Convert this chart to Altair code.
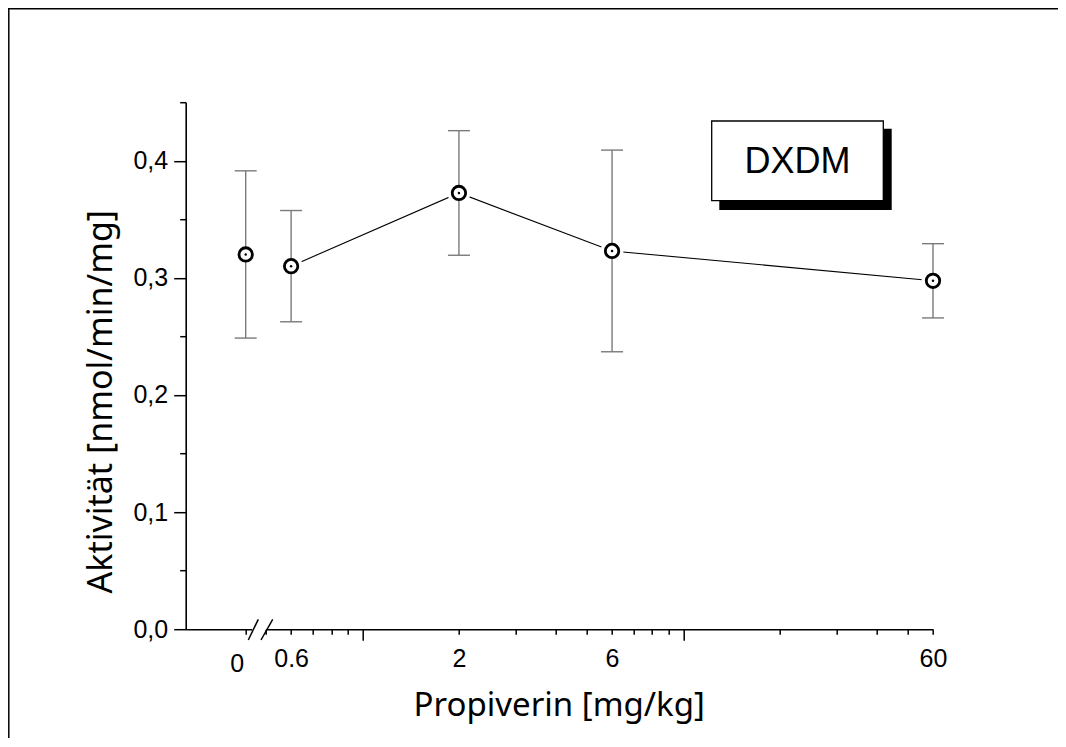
import altair as alt
import pandas as pd

# ---- data ----
doses = [0, 0.6, 2, 6, 60]
means = [0.320, 0.310, 0.3725, 0.323, 0.2975]
errors = [0.0714, 0.0475, 0.0532, 0.0861, 0.0317]

x_tick_values = [0.5, 0.6, 0.7, 0.8, 0.9, 1, 2, 3, 4, 5, 6, 7, 8, 9, 10, 20, 30, 40, 50, 60]
x_major_ticks = [1, 10]
x_label_values = [0.6, 2, 6, 60]
y_tick_values = [0, 0.05, 0.1, 0.15, 0.2, 0.25, 0.3, 0.35, 0.4, 0.45]
legend_label = "DXDM"
x_title = "Propiverin [mg/kg]"
y_title = "Aktivität [nmol/min/mg]"

df = pd.DataFrame({"dose": doses, "mean": means, "err": errors})
df["lo"] = df["mean"] - df["err"]
df["hi"] = df["mean"] + df["err"]
df_zero = df[df["dose"] == 0]
df_pos = df[df["dose"] > 0]

# ---- layout constants (pixels) ----
W, H = 747.3, 527
LEFT_W = 66
RIGHT_START = 80
TICK_FONT = "Liberation Sans"
TITLE_FONT = "Noto Sans"
TICK_FS = 25

y_scale = alt.Scale(domain=[0, 0.45], nice=False, zero=False)
y_axis = alt.Axis(
    values=y_tick_values,
    tickSize={"condition": {"test": "abs(datum.value*10 - round(datum.value*10)) < 0.001", "value": 12}, "value": 6},
    labelExpr="abs(datum.value*10 - round(datum.value*10)) < 0.001 ? replace(format(datum.value, '.1f'), '.', ',') : ''",
    labelFont=TICK_FONT, labelFontSize=TICK_FS, labelColor="black", labelPadding=6,
    labelFlush=False, labelOverlap=False,
    title=y_title, titleFont=TITLE_FONT, titleFontSize=34, titleFontWeight="normal",
    titleColor="black", titleBaseline="alphabetic", titleX=-74, titleY=299,
    grid=False, domainColor="black", domainWidth=1.6, tickColor="black", tickWidth=1.5,
)

xl_scale = alt.Scale(type="linear", domain=[-1, 0.1], range=[0, LEFT_W], nice=False, zero=False)
xl_axis = alt.Axis(
    orient="bottom", values=[0], tickSize=5, labelExpr="'0'",
    labelFont=TICK_FONT, labelFontSize=TICK_FS, labelColor="black",
    labelPadding=17, labelOffset=-9, labelFlush=False, labelOverlap=False,
    title=None, grid=False, domainColor="black", domainWidth=1.6,
    tickColor="black", tickWidth=1.5,
)

major_test = " || ".join(f"datum.value == {v}" for v in x_major_ticks)
label_list = ",".join(str(v) for v in x_label_values)
xr_scale = alt.Scale(type="log", domain=[0.5, 60], range=[RIGHT_START, W], nice=False)
xr_axis = alt.Axis(
    orient="bottom", values=x_tick_values,
    tickSize={"condition": {"test": major_test, "value": 11}, "value": 5},
    labelExpr=f"indexof([{label_list}], datum.value) >= 0 ? format(datum.value, '~g') : ''",
    labelFont=TICK_FONT, labelFontSize=TICK_FS, labelColor="black",
    labelPadding=12, labelFlush=False, labelOverlap=False,
    title=x_title, titleFont=TITLE_FONT, titleFontSize=33, titleFontWeight="normal",
    titleColor="black", titleBaseline="alphabetic", titleX=373, titleY=86,
    grid=False, domainColor="black", domainWidth=1.6, tickColor="black", tickWidth=1.5,
)

EB_COLOR = "#7a7a7a"


def series_layers(data, xenc, with_line):
    base = alt.Chart(data)
    layers = []
    if with_line:
        layers.append(base.mark_line(color="black", strokeWidth=1.1).encode(
            x=xenc, y=alt.Y("mean:Q", scale=y_scale, axis=y_axis)))
    layers.append(base.mark_circle(size=520, color="white", opacity=1).encode(
        x=xenc, y=alt.Y("mean:Q", scale=y_scale, axis=y_axis)))
    layers.append(base.mark_rule(color=EB_COLOR, strokeWidth=1.4).encode(
        x=xenc, y=alt.Y("lo:Q", scale=y_scale, axis=y_axis), y2="hi:Q"))
    layers.append(base.mark_tick(orient="horizontal", size=22, thickness=1.4, color=EB_COLOR, opacity=1).encode(
        x=xenc, y=alt.Y("lo:Q", scale=y_scale, axis=y_axis)))
    layers.append(base.mark_tick(orient="horizontal", size=22, thickness=1.4, color=EB_COLOR, opacity=1).encode(
        x=xenc, y=alt.Y("hi:Q", scale=y_scale, axis=y_axis)))
    layers.append(base.mark_circle(size=180, fill="white", stroke="black", strokeWidth=2.8, opacity=1).encode(
        x=xenc, y=alt.Y("mean:Q", scale=y_scale, axis=y_axis)))
    layers.append(base.mark_circle(size=6, color="black", opacity=1).encode(
        x=xenc, y=alt.Y("mean:Q", scale=y_scale, axis=y_axis)))
    return alt.layer(*layers)


left = series_layers(df_zero, alt.X("dose:Q", scale=xl_scale, axis=xl_axis), False)
right = series_layers(df_pos, alt.X("dose:Q", scale=xr_scale, axis=xr_axis), True)

one = alt.Data(values=[{}])
deco = []
# page frame (left and top edges)
deco.append(alt.Chart(one).mark_rule(color="black", strokeWidth=1.5).encode(
    x=alt.value(-176.9), y=alt.value(-94.2), y2=alt.value(635.8)))
deco.append(alt.Chart(one).mark_rule(color="black", strokeWidth=1.5).encode(
    x=alt.value(-177.7), x2=alt.value(872.3), y=alt.value(-93.4)))
# axis break marks
deco.append(alt.Chart(one).mark_rule(color="black", strokeWidth=1.5).encode(
    x=alt.value(62.6), x2=alt.value(72.6), y=alt.value(537.8), y2=alt.value(517.1)))
deco.append(alt.Chart(one).mark_rule(color="black", strokeWidth=1.5).encode(
    x=alt.value(75.3), x2=alt.value(87.0), y=alt.value(537.8), y2=alt.value(517.1)))
# legend box with shadow
deco.append(alt.Chart(one).mark_rect(color="black").encode(
    x=alt.value(533.6), x2=alt.value(706.0), y=alt.value(26.6), y2=alt.value(107.8)))
deco.append(alt.Chart(one).mark_rect(fill="white", stroke="black", strokeWidth=1.3).encode(
    x=alt.value(526.0), x2=alt.value(697.6), y=alt.value(18.8), y2=alt.value(98.5)))
deco.append(alt.Chart(one).mark_text(text=legend_label, font=TICK_FONT, fontSize=36, color="black",
                                     align="center", baseline="middle").encode(
    x=alt.value(611.8), y=alt.value(59.5)))

chart = alt.layer(left, right, *deco).resolve_scale(x="independent").resolve_axis(x="independent").properties(
    width=W, height=H,
    background="white",
    autosize=alt.AutoSizeParams(type="none"),
    padding={"left": 177.7, "top": 94.2, "right": 125, "bottom": 108.8},
).configure_view(stroke=None)

chart.save("out.html", embed_options={"renderer": "svg", "actions": False})
